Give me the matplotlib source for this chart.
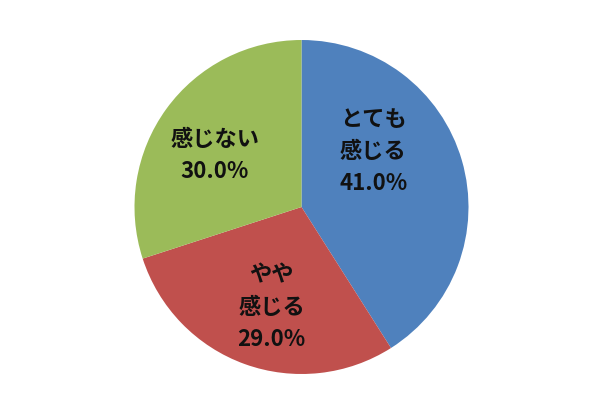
import matplotlib.pyplot as plt

plt.rcParams['font.family'] = ['Noto Sans CJK JP', 'DejaVu Sans']

labels = ["とても\n感じる", "やや\n感じる", "感じない"]
values = [41.0, 29.0, 30.0]
colors = ["#4F81BD", "#C0504D", "#9BBB59"]

# label positions in pie coordinates (radius 1)
label_pos = [(0.43, 0.33), (-0.18, -0.60), (-0.52, 0.31)]

fig = plt.figure(figsize=(6.15, 4.11), dpi=100)
cx, cy, r = 301.5, 207, 167
ax = fig.add_axes([(cx - r) / 615, (411 - cy - r) / 411, 2 * r / 615, 2 * r / 411])

ax.pie(values, colors=colors, startangle=90, counterclock=False, radius=1,
       wedgeprops=dict(linewidth=0))
ax.set_xlim(-1, 1)
ax.set_ylim(-1, 1)
ax.set_aspect('equal')
ax.axis('off')

for lab, v, (x, y) in zip(labels, values, label_pos):
    ax.text(x, y, f"{lab}\n{v:.1f}%", ha='center', va='center',
            fontsize=16, fontweight='bold', linespacing=1.5, color='#111111')

fig.savefig("out.png", dpi=100)
